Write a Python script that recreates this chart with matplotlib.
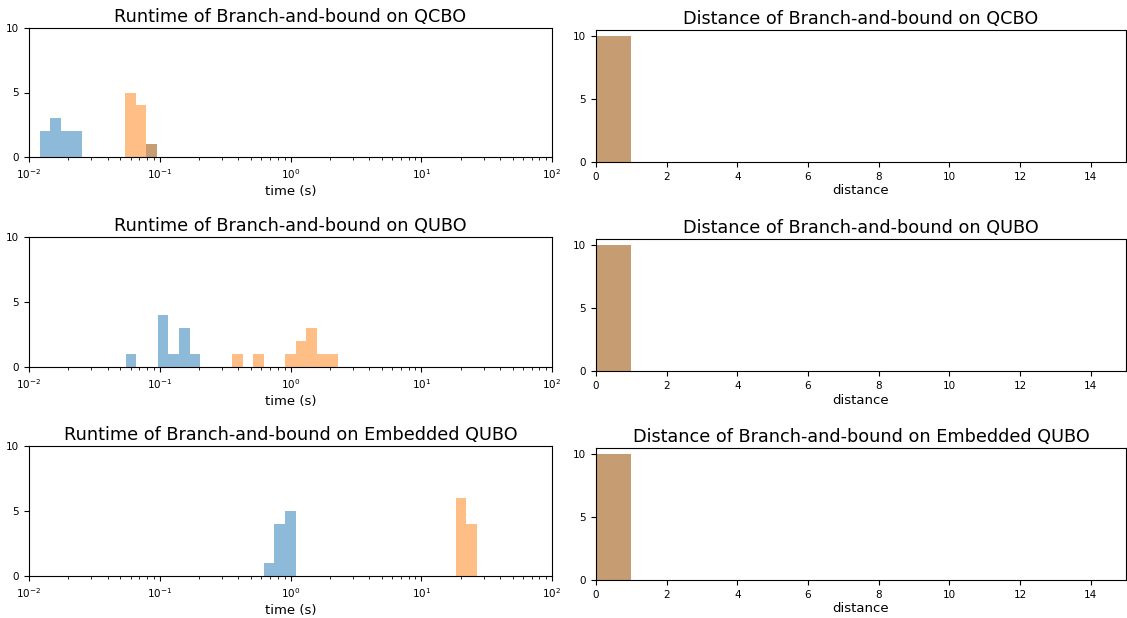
import numpy as np
import matplotlib
matplotlib.use('Agg')
import matplotlib.pyplot as plt

# problem types, one row each
problems = ['QCBO', 'QUBO', 'Embedded QUBO']

# log-spaced bins for each runtime histogram (lowest edge, highest edge, number of bins)
time_lo = [0.01205, 0.0550, 0.624]
time_hi = [0.0951, 2.32, 26.7]
time_nbins = [11, 20, 20]

time_blue = [
    [2, 3, 2, 2, 0, 0, 0, 0, 0, 0, 1],
    [1, 0, 0, 4, 1, 3, 1, 0, 0, 0, 0, 0, 0, 0, 0, 0, 0, 0, 0, 0],
    [1, 4, 5, 0, 0, 0, 0, 0, 0, 0, 0, 0, 0, 0, 0, 0, 0, 0, 0, 0],
]
time_orange = [
    [0, 0, 0, 0, 0, 0, 0, 0, 5, 4, 1],
    [0, 0, 0, 0, 0, 0, 0, 0, 0, 0, 1, 0, 1, 0, 0, 1, 2, 3, 1, 1],
    [0, 0, 0, 0, 0, 0, 0, 0, 0, 0, 0, 0, 0, 0, 0, 0, 0, 0, 6, 4],
]

# distance histograms: every run at distance 0
dist_edges = [0, 1]
dist_blue = [[10], [10], [10]]
dist_orange = [[10], [10], [10]]

fig = plt.figure(figsize=(11.27, 6.18), dpi=100)
W, H = 1127.0, 618.0

# axes boxes in pixels (left, top, right, bottom)
left_boxes = [(29, 28, 552, 157), (29, 237, 552, 367), (29, 446, 552, 576)]
right_boxes = [(596, 30, 1126, 162), (596, 239, 1126, 371), (596, 448, 1126, 580)]

def px_rect(b):
    x0, y0, x1, y1 = b
    return [x0 / W, 1 - y1 / H, (x1 - x0) / W, (y1 - y0) / H]

for i, prob in enumerate(problems):
    # runtime
    ax = fig.add_axes(px_rect(left_boxes[i]))
    edges = np.logspace(np.log10(time_lo[i]), np.log10(time_hi[i]), time_nbins[i] + 1)
    ax.hist(edges[:-1], bins=edges, weights=time_blue[i], alpha=0.5)
    ax.hist(edges[:-1], bins=edges, weights=time_orange[i], alpha=0.5)
    ax.set_xscale('log')
    ax.set_xlim(1e-2, 1e2)
    ax.set_ylim(0, 10)
    ax.set_yticks([0, 5, 10])
    ax.tick_params(labelsize=7.5)
    ax.set_title(f'Runtime of Branch-and-bound on {prob}', fontsize=12.7, pad=4.5)
    ax.set_xlabel('time (s)', fontsize=9.5, labelpad=3)

    # distance
    ax2 = fig.add_axes(px_rect(right_boxes[i]))
    ax2.hist(dist_edges[:-1], bins=dist_edges, weights=dist_blue[i], alpha=0.5)
    ax2.hist(dist_edges[:-1], bins=dist_edges, weights=dist_orange[i], alpha=0.5)
    ax2.set_xlim(0, 15)
    ax2.set_ylim(0, 10.5)
    ax2.set_yticks([0, 5, 10])
    ax2.set_xticks(range(0, 15, 2))
    ax2.tick_params(labelsize=7.5)
    ax2.set_title(f'Distance of Branch-and-bound on {prob}', fontsize=12.7, pad=4.5)
    ax2.set_xlabel('distance', fontsize=9.5, labelpad=2)

plt.savefig('out.png', dpi=100)
plt.close('all')
